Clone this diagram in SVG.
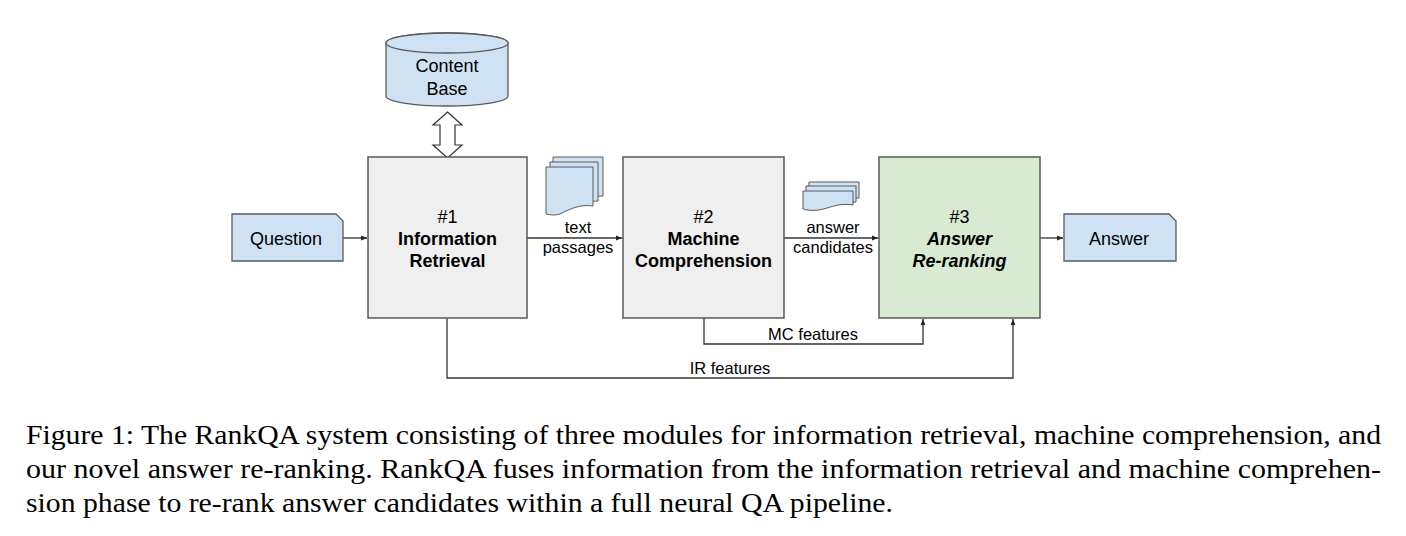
<svg xmlns="http://www.w3.org/2000/svg" width="1406" height="536" viewBox="0 0 1406 536">
<defs>
<style>
.box{fill:#efefef;stroke:#595959;stroke-width:1.5}
.green{fill:#d9ead3;stroke:#595959;stroke-width:1.5}
.blue{fill:#cfe2f3;stroke:#595959;stroke-width:1.3}
.doc{fill:#cfe2f3;stroke:#595959;stroke-width:1}
.t{font-family:"Liberation Sans",Arial,sans-serif;font-size:18px;fill:#000;text-anchor:middle}
.b{font-weight:bold}
.bi{font-weight:bold;font-style:italic}
.s{font-family:"Liberation Sans",Arial,sans-serif;font-size:16.5px;fill:#000;text-anchor:middle}
.con{fill:none;stroke:#333;stroke-width:1.3}
.cap{font-family:"Liberation Serif","Times New Roman",serif;font-size:27.5px;fill:#000}
</style>
<marker id="ah" viewBox="0 0 10 10" refX="10" refY="5" markerWidth="6" markerHeight="6" markerUnits="userSpaceOnUse" orient="auto">
<path d="M0,1 L10,5 L0,9 Z" fill="#222"/>
</marker>
</defs>

<g id="connectors">
<line class="con" x1="343" y1="238" x2="367" y2="238" marker-end="url(#ah)"/>
<line class="con" x1="527" y1="238" x2="622" y2="238" marker-end="url(#ah)"/>
<line class="con" x1="784" y1="238" x2="878" y2="238" marker-end="url(#ah)"/>
<line class="con" x1="1040" y1="238" x2="1063" y2="238" marker-end="url(#ah)"/>
<polyline class="con" points="704,318 704,344 923,344 923,319" marker-end="url(#ah)"/>
<polyline class="con" points="447,318 447,378 1013,378 1013,319" marker-end="url(#ah)"/>
<path d="M447.5,112 L462,125 L455,125 L455,145 L462,145 L447.5,158 L433,145 L440,145 L440,125 L433,125 Z" fill="#fff" stroke="#333" stroke-width="1.2"/>
<text class="s" x="578" y="233">text</text>
<text class="s" x="578" y="253">passages</text>
<text class="s" x="833" y="233">answer</text>
<text class="s" x="833" y="253">candidates</text>
<text class="s" x="813" y="340">MC features</text>
<text class="s" x="730" y="374">IR features</text>
</g>

<g id="content-base">
<path class="blue" d="M386,43 L386,96 A61,10 0 0 0 508,96 L508,43 A61,10 0 0 0 386,43 Z"/>
<ellipse class="blue" cx="447" cy="43" rx="61" ry="10"/>
<text class="t" x="447" y="72">Content</text>
<text class="t" x="447" y="95">Base</text>
</g>

<g id="question">
<path class="blue" d="M232,214 L336,214 L343,221 L343,261 L232,261 Z"/>
<text class="t" x="286" y="245">Question</text>
</g>

<g id="ir">
<rect class="box" x="368" y="157" width="159" height="161"/>
<text class="t" x="447.5" y="223">#1</text>
<text class="t b" x="447.5" y="245">Information</text>
<text class="t b" x="447.5" y="267">Retrieval</text>
</g>

<g id="text-passages">
<path class="doc" d="M553,157 H603 V196 C596,196 592,198 588,200 L553,200 Z"/>
<path class="doc" d="M550,162 H598 V201 C591,201 587,203 583,205 L550,205 Z"/>
<path class="doc" d="M546,167 H593 V206 C580,204 570,209 562,213 C556,216 551,215 546,214 Z"/>
</g>

<g id="mc">
<rect class="box" x="623" y="157" width="161" height="161"/>
<text class="t" x="703.5" y="223">#2</text>
<text class="t b" x="703.5" y="245">Machine</text>
<text class="t b" x="703.5" y="267">Comprehension</text>
</g>

<g id="answer-candidates">
<path class="doc" d="M809,182 H859 V198 C854,198 851,199 849,200 L809,200 Z"/>
<path class="doc" d="M806,186 H856 V202 C851,202 848,203 846,204 L806,204 Z"/>
<path class="doc" d="M803,191 H853 V205 C842,203 834,206 827,208 C818,211 810,211 803,209 Z"/>
</g>

<g id="ar">
<rect class="green" x="879" y="157" width="161" height="161"/>
<text class="t" x="959.5" y="223">#3</text>
<text class="t bi" x="959.5" y="245">Answer</text>
<text class="t bi" x="959.5" y="267">Re-ranking</text>
</g>

<g id="answer">
<path class="blue" d="M1064,214 L1169,214 L1176,221 L1176,261 L1064,261 Z"/>
<text class="t" x="1119" y="245">Answer</text>
</g>

<g id="caption">
<text class="cap" x="26" y="444" textLength="1355" lengthAdjust="spacingAndGlyphs">Figure 1: The RankQA system consisting of three modules for information retrieval, machine comprehension, and</text>
<text class="cap" x="26" y="478" textLength="1355" lengthAdjust="spacingAndGlyphs">our novel answer re-ranking. RankQA fuses information from the information retrieval and machine comprehen-</text>
<text class="cap" x="26" y="512" textLength="867" lengthAdjust="spacingAndGlyphs">sion phase to re-rank answer candidates within a full neural QA pipeline.</text>
</g>
</svg>
